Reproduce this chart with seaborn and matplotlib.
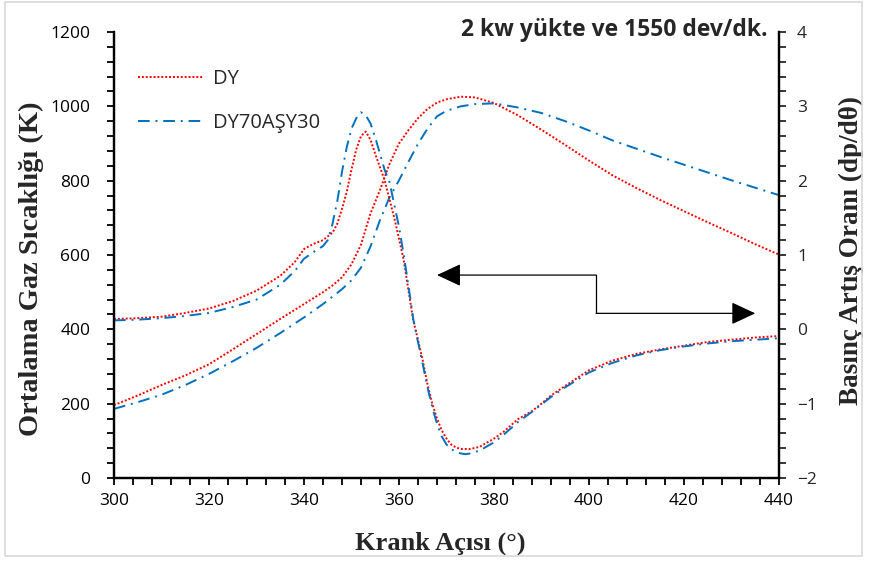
import matplotlib
matplotlib.use("Agg")
import matplotlib.pyplot as plt
import matplotlib.patches as mpatches
from matplotlib.ticker import MultipleLocator
import numpy as np
import pandas as pd
import seaborn as sns

# ---------------- data ----------------
crank_T = [300, 305, 310, 315, 320, 325, 330, 335, 340, 344, 346, 348, 350, 352, 354, 356, 358, 360,
           362, 364, 366, 368, 370, 373, 376, 380, 385, 390, 395, 400, 405, 410, 415, 420, 425, 430, 435, 440]
temp_DY = [196, 222, 250, 276, 306, 346, 387, 428, 468, 500, 518, 540, 575, 628, 712, 775, 845, 900,
           936, 968, 993, 1010, 1019, 1026, 1024, 1009, 976, 937, 896, 854, 814, 780, 748, 718, 688, 659, 629, 601]
temp_DY70 = [186, 204, 224, 250, 280, 314, 350, 390, 432, 468, 488, 508, 532, 566, 623, 694, 755, 801,
             851, 899, 940, 973, 988, 1000, 1006, 1008, 997, 982, 960, 935, 908, 886, 864, 843, 822, 801, 781, 761]

crank_dp = [300, 305, 310, 315, 320, 325, 330, 335, 338, 340, 342, 344, 345, 346, 347, 348, 349, 350,
            351, 352, 353, 354, 355, 356, 357, 358, 359, 360, 361, 362, 363, 364, 365, 366, 367, 368,
            369, 370, 371, 372, 373, 374, 375, 377, 380, 382, 385, 388, 390, 392, 395, 400, 405, 410,
            415, 420, 425, 430, 435, 440]
dp_DY = [0.14, 0.15, 0.17, 0.22, 0.28, 0.38, 0.52, 0.72, 0.90, 1.08, 1.15, 1.20, 1.25, 1.30, 1.42, 1.62, 1.85, 2.15,
         2.42, 2.60, 2.66, 2.55, 2.36, 2.18, 2.00, 1.75, 1.50, 1.22, 0.93, 0.52, 0.12, -0.14, -0.42, -0.74, -1.00, -1.20,
         -1.36, -1.47, -1.55, -1.59, -1.61, -1.61, -1.61, -1.58, -1.47, -1.38, -1.21, -1.10, -1.00, -0.89, -0.76, -0.55, -0.42, -0.33,
         -0.27, -0.22, -0.17, -0.14, -0.11, -0.09]
dp_DY70 = [0.12, 0.13, 0.15, 0.18, 0.22, 0.30, 0.40, 0.60, 0.78, 0.95, 1.04, 1.12, 1.20, 1.42, 1.72, 2.12, 2.45, 2.70,
           2.84, 2.92, 2.88, 2.77, 2.58, 2.36, 2.14, 1.98, 1.68, 1.38, 1.00, 0.58, 0.14, -0.17, -0.47, -0.78, -1.05, -1.27,
           -1.44, -1.55, -1.61, -1.65, -1.67, -1.68, -1.67, -1.63, -1.52, -1.42, -1.25, -1.11, -1.01, -0.91, -0.78, -0.58, -0.45, -0.35,
           -0.28, -0.23, -0.19, -0.16, -0.14, -0.12]

series_names = ["DY", "DY70AŞY30"]
x_ticks = list(range(300, 441, 20))
left_ticks = list(range(0, 1201, 200))
right_ticks = list(range(-2, 5, 1))

title_text = "2 kw yükte ve 1550 dev/dk."
xlabel_text = "Krank Açısı (°)"
ylabel_left = "Ortalama Gaz Sıcaklığı (K)"
ylabel_right = "Basınç Artış Oranı (dp/dθ)"

# annotation arrow anchors (data coords, left axis)
arrow_corner_x = 401.5
arrow_left_tip_x = 368.0
arrow_right_tip_x = 435.0
arrow_upper_y = 546
arrow_lower_y = 443

# ---------------- style ----------------
sns.set_theme(style="white")
plt.rcParams['font.family'] = ['Open Sans', 'DejaVu Sans']

RED = "#FF0000"
BLUE = "#0070C0"
dotted = (0, (1, 1))
dashdot = (0, (6, 3, 1, 3))

fig = plt.figure(figsize=(8.69, 5.64), dpi=100)
ax = fig.add_axes([114 / 869, 1 - 478 / 564, (779 - 114) / 869, (478 - 32) / 564])
ax2 = ax.twinx()

dfT = pd.DataFrame({"crank": crank_T, "DY": temp_DY, "DY70": temp_DY70})
dfP = pd.DataFrame({"crank": crank_dp, "DY": dp_DY, "DY70": dp_DY70})

sns.lineplot(data=dfT, x="crank", y="DY", ax=ax, color=RED, linestyle=dotted, lw=1.4,
             label=series_names[0], sort=True)
sns.lineplot(data=dfT, x="crank", y="DY70", ax=ax, color=BLUE, linestyle=dashdot, lw=1.4,
             label=series_names[1], sort=True)
sns.lineplot(data=dfP, x="crank", y="DY", ax=ax2, color=RED, linestyle=dotted, lw=1.4, legend=False)
sns.lineplot(data=dfP, x="crank", y="DY70", ax=ax2, color=BLUE, linestyle=dashdot, lw=1.4, legend=False)

ax.set_xlim(300, 440)
ax.set_ylim(0, 1200)
ax2.set_ylim(-2, 4)

ax.set_xticks(x_ticks)
ax.set_yticks(left_ticks)
ax2.set_yticks(right_ticks)
ax.xaxis.set_minor_locator(MultipleLocator(4))
ax.yaxis.set_minor_locator(MultipleLocator(40))
ax2.yaxis.set_minor_locator(MultipleLocator(0.2))

for a in (ax, ax2):
    for s in a.spines.values():
        s.set_linewidth(1.6)
        s.set_color("black")
    a.spines["top"].set_visible(False)
    a.grid(False)

ax.tick_params(axis="both", which="both", direction="out", length=5, width=1.3, color="black",
               labelsize=12.5, labelcolor="black")
ax.tick_params(axis="x", which="both", bottom=True, pad=6)
ax.tick_params(axis="y", which="both", left=True, right=False, pad=12)
ax2.tick_params(axis="y", which="both", direction="out", length=5, width=1.3, right=True, left=False,
                labelsize=12.5, pad=8)

ax.set_xlabel(xlabel_text, family="Liberation Serif", fontweight="bold", fontsize=19)
ax.set_ylabel(ylabel_left, family="Liberation Serif", fontweight="bold", fontsize=20.5)
ax2.set_ylabel(ylabel_right, family="Liberation Serif", fontweight="bold", fontsize=19.5)
ax.xaxis.set_label_coords(0.49, -0.12)
ax.yaxis.set_label_coords(-0.105, 0.47)
ax2.yaxis.set_label_coords(1.09, 0.51)

ax.text(0.983, 1.004, title_text, transform=ax.transAxes, ha="right", va="center",
        fontsize=16.5, fontweight="bold", family="Open Sans")

# annotation arrows
ax.plot([arrow_corner_x, arrow_corner_x], [arrow_lower_y, arrow_upper_y], color="black", lw=0.9)
aprops = dict(arrowstyle="-|>,head_length=0.75,head_width=0.35", color="black", lw=0.9,
              shrinkA=0, shrinkB=0, mutation_scale=20)
ax.annotate("", xy=(arrow_left_tip_x, arrow_upper_y), xytext=(arrow_corner_x, arrow_upper_y),
            arrowprops=aprops)
ax.annotate("", xy=(arrow_right_tip_x, arrow_lower_y), xytext=(arrow_corner_x, arrow_lower_y),
            arrowprops=aprops)

leg = ax.legend(loc="upper left", bbox_to_anchor=(0.0, 0.972), frameon=False, fontsize=14.5,
                handlelength=3.2, handletextpad=0.5, labelspacing=1.2, borderaxespad=0.8)

# outer light border
fig.patches.append(mpatches.Rectangle((5 / 869, 1 - 556 / 564), 857 / 869, 554 / 564,
                                      transform=fig.transFigure, fill=False,
                                      edgecolor="#D9D9D9", lw=1.2))

fig.savefig("out.png", dpi=100)
